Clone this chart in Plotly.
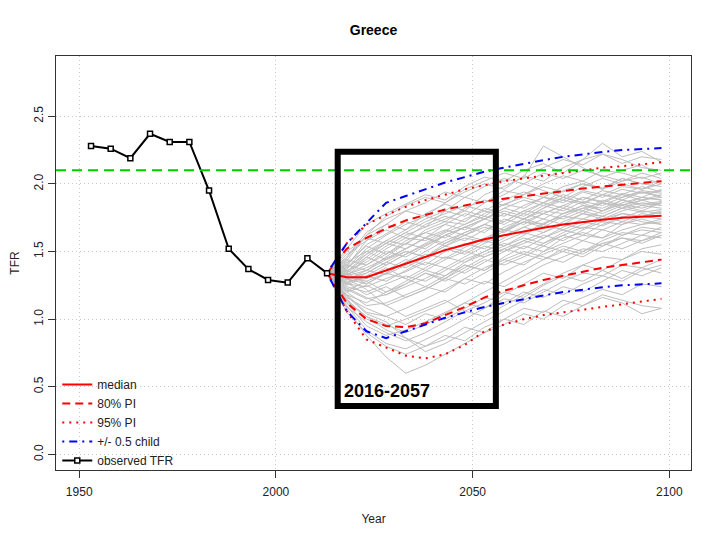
import plotly.graph_objects as go

# ---------------- data ----------------
obs_years = [1953, 1958, 1963, 1968, 1973, 1978, 1983, 1988, 1993, 1998, 2003, 2008, 2013]
obs_tfr = [2.28, 2.26, 2.19, 2.37, 2.31, 2.31, 1.95, 1.52, 1.37, 1.29, 1.27, 1.45, 1.34]

proj_years = [2013, 2018, 2023, 2028, 2033, 2038, 2043, 2048, 2053, 2058,
              2063, 2068, 2073, 2078, 2083, 2088, 2093, 2098]

median = [1.34, 1.31, 1.31, 1.36, 1.41, 1.46, 1.51, 1.55, 1.59, 1.62,
          1.65, 1.675, 1.70, 1.72, 1.735, 1.75, 1.76, 1.765]
pi80_upper = [1.34, 1.52, 1.60, 1.67, 1.73, 1.77, 1.81, 1.84, 1.87, 1.89,
              1.91, 1.93, 1.95, 1.965, 1.98, 1.995, 2.01, 2.02]
pi80_lower = [1.34, 1.12, 1.00, 0.95, 0.94, 0.97, 1.03, 1.09, 1.16, 1.21,
              1.25, 1.29, 1.32, 1.35, 1.38, 1.40, 1.42, 1.44]
pi95_upper = [1.34, 1.56, 1.70, 1.77, 1.83, 1.88, 1.92, 1.96, 1.99, 2.02,
              2.04, 2.06, 2.08, 2.10, 2.12, 2.13, 2.145, 2.16]
pi95_lower = [1.34, 1.06, 0.85, 0.79, 0.73, 0.71, 0.74, 0.81, 0.91, 0.96,
              1.00, 1.03, 1.05, 1.07, 1.09, 1.11, 1.13, 1.15]
half_child_upper = [1.34, 1.56, 1.71, 1.86, 1.91, 1.96, 2.01, 2.05, 2.09, 2.12,
                    2.15, 2.175, 2.20, 2.22, 2.235, 2.25, 2.26, 2.265]
half_child_lower = [1.34, 1.06, 0.91, 0.86, 0.91, 0.96, 1.01, 1.05, 1.09, 1.12,
                    1.15, 1.175, 1.20, 1.22, 1.235, 1.25, 1.26, 1.265]

replacement_tfr = 2.1

# simulated trajectories (values 2018..2098; all start at the 2013 observed value)
traj_start = 1.34
trajectories = [
    [1.52, 1.70, 1.78, 1.85, 1.92, 1.88, 1.98, 2.05, 2.02, 2.10, 2.15, 2.08, 2.18, 2.22, 2.15, 2.20, 2.18],
    [1.45, 1.62, 1.70, 1.66, 1.78, 1.85, 1.80, 1.92, 1.98, 2.05, 2.28, 2.20, 2.12, 2.05, 2.10, 2.14, 2.06],
    [1.40, 1.55, 1.63, 1.72, 1.68, 1.80, 1.90, 1.86, 1.95, 1.92, 2.00, 2.06, 2.02, 2.10, 2.08, 2.04, 2.08],
    [1.38, 1.48, 1.58, 1.55, 1.66, 1.72, 1.70, 1.78, 1.85, 1.90, 1.86, 1.95, 2.00, 1.96, 2.02, 2.05, 2.00],
    [1.36, 1.42, 1.52, 1.60, 1.58, 1.65, 1.74, 1.80, 1.76, 1.84, 1.90, 1.88, 1.95, 1.92, 1.98, 1.96, 2.00],
    [1.33, 1.38, 1.45, 1.52, 1.60, 1.56, 1.64, 1.70, 1.78, 1.74, 1.82, 1.88, 1.85, 1.92, 1.90, 1.95, 1.93],
    [1.35, 1.46, 1.40, 1.48, 1.55, 1.62, 1.58, 1.66, 1.72, 1.80, 1.78, 1.84, 1.90, 1.87, 1.93, 1.90, 1.96],
    [1.30, 1.34, 1.42, 1.38, 1.46, 1.54, 1.60, 1.57, 1.65, 1.72, 1.70, 1.78, 1.82, 1.86, 1.84, 1.90, 1.88],
    [1.32, 1.36, 1.33, 1.40, 1.48, 1.45, 1.53, 1.60, 1.66, 1.63, 1.71, 1.76, 1.74, 1.80, 1.85, 1.82, 1.86],
    [1.28, 1.30, 1.36, 1.44, 1.40, 1.50, 1.56, 1.52, 1.60, 1.68, 1.74, 1.70, 1.78, 1.76, 1.82, 1.86, 1.84],
    [1.26, 1.24, 1.30, 1.35, 1.42, 1.38, 1.46, 1.54, 1.50, 1.58, 1.64, 1.70, 1.67, 1.74, 1.78, 1.76, 1.80],
    [1.24, 1.20, 1.26, 1.32, 1.28, 1.36, 1.44, 1.50, 1.56, 1.52, 1.60, 1.66, 1.72, 1.69, 1.75, 1.80, 1.78],
    [1.22, 1.15, 1.18, 1.24, 1.30, 1.38, 1.34, 1.42, 1.50, 1.56, 1.62, 1.58, 1.66, 1.72, 1.70, 1.76, 1.74],
    [1.20, 1.10, 1.12, 1.18, 1.24, 1.20, 1.30, 1.38, 1.44, 1.40, 1.50, 1.56, 1.62, 1.60, 1.66, 1.70, 1.72],
    [1.18, 1.05, 1.02, 1.08, 1.15, 1.22, 1.30, 1.26, 1.35, 1.42, 1.48, 1.54, 1.50, 1.58, 1.64, 1.62, 1.68],
    [1.15, 1.00, 0.95, 1.00, 1.06, 1.12, 1.20, 1.28, 1.24, 1.32, 1.40, 1.46, 1.52, 1.50, 1.56, 1.62, 1.60],
    [1.12, 0.95, 0.88, 0.92, 0.98, 1.05, 1.12, 1.08, 1.18, 1.26, 1.34, 1.30, 1.40, 1.46, 1.44, 1.52, 1.55],
    [1.10, 0.92, 0.82, 0.78, 0.85, 0.92, 1.00, 1.08, 1.15, 1.12, 1.20, 1.28, 1.34, 1.32, 1.40, 1.38, 1.44],
    [1.08, 0.88, 0.72, 0.60, 0.66, 0.74, 0.82, 0.90, 0.96, 1.04, 1.00, 1.10, 1.16, 1.22, 1.18, 1.26, 1.24],
    [1.14, 1.02, 0.92, 0.86, 0.80, 0.85, 0.94, 0.90, 1.00, 1.08, 1.05, 1.14, 1.10, 1.18, 1.14, 1.10, 1.08],
    [1.30, 1.22, 1.10, 1.02, 1.08, 1.14, 1.06, 1.12, 1.20, 1.16, 1.25, 1.32, 1.28, 1.36, 1.30, 1.38, 1.34],
    [1.36, 1.30, 1.38, 1.30, 1.24, 1.32, 1.40, 1.36, 1.44, 1.50, 1.46, 1.42, 1.50, 1.56, 1.52, 1.58, 1.62],
    [1.42, 1.50, 1.44, 1.52, 1.60, 1.54, 1.50, 1.58, 1.54, 1.62, 1.70, 1.66, 1.62, 1.70, 1.76, 1.72, 1.70],
    [1.48, 1.58, 1.66, 1.60, 1.70, 1.76, 1.72, 1.82, 1.78, 1.74, 1.82, 1.90, 1.86, 1.80, 1.88, 1.94, 1.90],
    [1.34, 1.26, 1.34, 1.42, 1.36, 1.44, 1.50, 1.46, 1.52, 1.48, 1.56, 1.62, 1.58, 1.66, 1.62, 1.68, 1.66],
    [1.27, 1.18, 1.24, 1.16, 1.22, 1.30, 1.26, 1.34, 1.42, 1.48, 1.44, 1.52, 1.48, 1.56, 1.60, 1.56, 1.62],
    [1.40, 1.36, 1.44, 1.50, 1.46, 1.54, 1.62, 1.68, 1.64, 1.72, 1.68, 1.76, 1.82, 1.78, 1.84, 1.80, 1.86],
    [1.50, 1.60, 1.56, 1.64, 1.72, 1.78, 1.84, 1.80, 1.88, 1.94, 1.90, 1.98, 2.02, 1.96, 2.04, 2.00, 2.02],
    [1.16, 1.08, 1.02, 0.96, 1.04, 1.00, 1.08, 1.16, 1.12, 1.20, 1.16, 1.24, 1.20, 1.28, 1.36, 1.32, 1.38],
    [1.31, 1.28, 1.20, 1.26, 1.34, 1.28, 1.36, 1.44, 1.40, 1.46, 1.54, 1.50, 1.58, 1.54, 1.62, 1.66, 1.64],
    [1.44, 1.40, 1.48, 1.56, 1.52, 1.62, 1.68, 1.64, 1.74, 1.70, 1.78, 1.84, 1.80, 1.88, 1.84, 1.88, 1.92],
    [1.20, 1.25, 1.18, 1.26, 1.34, 1.30, 1.40, 1.36, 1.46, 1.54, 1.50, 1.60, 1.64, 1.60, 1.70, 1.74, 1.70],
    [1.05, 0.90, 0.80, 0.74, 0.80, 0.88, 0.84, 0.94, 1.00, 0.96, 1.06, 1.02, 1.10, 1.16, 1.12, 1.04, 1.08],
    [1.46, 1.64, 1.74, 1.80, 1.76, 1.86, 1.94, 2.00, 1.96, 2.06, 2.02, 2.12, 2.18, 2.30, 2.20, 2.24, 2.16],
    [1.38, 1.52, 1.62, 1.70, 1.76, 1.72, 1.82, 1.88, 1.84, 1.92, 1.98, 1.94, 2.00, 1.97, 2.04, 2.00, 1.98],
    [1.34, 1.44, 1.54, 1.62, 1.68, 1.74, 1.80, 1.76, 1.85, 1.82, 1.90, 1.86, 1.94, 1.90, 1.96, 1.93, 1.95],
    [1.29, 1.36, 1.46, 1.56, 1.64, 1.70, 1.66, 1.74, 1.82, 1.78, 1.86, 1.92, 1.88, 1.95, 1.92, 1.98, 1.94],
    [1.37, 1.50, 1.58, 1.66, 1.74, 1.80, 1.76, 1.86, 1.92, 2.00, 1.95, 1.90, 1.98, 2.04, 2.00, 1.96, 2.02],
    [1.25, 1.32, 1.40, 1.48, 1.56, 1.64, 1.70, 1.76, 1.72, 1.80, 1.86, 1.82, 1.90, 1.86, 1.92, 1.88, 1.90],
    [1.33, 1.40, 1.50, 1.46, 1.54, 1.62, 1.68, 1.74, 1.80, 1.76, 1.84, 1.80, 1.87, 1.84, 1.90, 1.94, 1.91],
    [1.21, 1.28, 1.34, 1.42, 1.50, 1.58, 1.64, 1.70, 1.66, 1.74, 1.80, 1.78, 1.84, 1.82, 1.88, 1.85, 1.87],
    [1.39, 1.58, 1.70, 1.80, 1.86, 1.94, 1.90, 1.98, 2.04, 2.00, 2.08, 2.04, 2.10, 2.06, 2.02, 2.08, 2.04],
    [1.31, 1.46, 1.56, 1.64, 1.60, 1.70, 1.78, 1.74, 1.82, 1.88, 1.84, 1.90, 1.86, 1.92, 1.88, 1.84, 1.86],
    [1.27, 1.32, 1.28, 1.36, 1.44, 1.52, 1.48, 1.56, 1.62, 1.68, 1.64, 1.72, 1.78, 1.74, 1.80, 1.84, 1.82],
    [1.18, 1.12, 1.20, 1.28, 1.36, 1.32, 1.42, 1.48, 1.54, 1.60, 1.56, 1.64, 1.70, 1.76, 1.72, 1.78, 1.76],
    [1.23, 1.16, 1.10, 1.16, 1.22, 1.30, 1.38, 1.46, 1.52, 1.58, 1.54, 1.62, 1.68, 1.66, 1.72, 1.70, 1.74],
    [1.13, 1.02, 0.96, 0.90, 0.96, 1.04, 1.12, 1.20, 1.28, 1.36, 1.44, 1.50, 1.46, 1.54, 1.60, 1.58, 1.64],
    [1.09, 0.98, 0.90, 0.84, 0.90, 0.98, 1.06, 1.02, 1.10, 1.18, 1.26, 1.34, 1.40, 1.36, 1.44, 1.50, 1.48],
    [1.17, 1.04, 0.98, 0.86, 0.76, 0.82, 0.90, 0.98, 1.06, 1.14, 1.22, 1.18, 1.26, 1.32, 1.28, 1.36, 1.40],
    [1.35, 1.48, 1.56, 1.52, 1.60, 1.66, 1.62, 1.70, 1.66, 1.72, 1.78, 1.74, 1.80, 1.76, 1.82, 1.79, 1.81],
    [1.41, 1.54, 1.48, 1.58, 1.64, 1.60, 1.68, 1.74, 1.70, 1.78, 1.74, 1.82, 1.78, 1.86, 1.82, 1.88, 1.84],
    [1.30, 1.26, 1.34, 1.30, 1.38, 1.46, 1.42, 1.50, 1.58, 1.64, 1.60, 1.68, 1.74, 1.72, 1.78, 1.76, 1.79],
    [1.26, 1.34, 1.42, 1.50, 1.46, 1.56, 1.62, 1.58, 1.68, 1.74, 1.70, 1.78, 1.84, 1.80, 1.86, 1.90, 1.88],
    [1.43, 1.62, 1.76, 1.84, 1.90, 1.86, 1.96, 2.02, 2.08, 2.04, 2.12, 2.18, 2.14, 2.22, 2.18, 2.12, 2.10],
]

x_ticks = [1950, 2000, 2050, 2100]
y_ticks = [0.0, 0.5, 1.0, 1.5, 2.0, 2.5]
box_label = "2016-2057"
box_x = (2015.7, 2055.9)
box_y = (0.358, 2.238)

FONT = "Liberation Sans, Arial, sans-serif"

fig = go.Figure()

# gray trajectories
for tr in trajectories:
    fig.add_trace(go.Scatter(
        x=proj_years, y=[traj_start] + tr, mode="lines",
        line=dict(color="#BEBEBE", width=1), showlegend=False, hoverinfo="skip"))


def band(upper, lower):
    return proj_years + [None] + proj_years, upper + [None] + lower


x95, y95 = band(pi95_upper, pi95_lower)
fig.add_trace(go.Scatter(x=x95, y=y95, mode="lines", name="95% PI", legendrank=3,
                         line=dict(color="#FF0000", width=2, dash="2px,5px")))
x80, y80 = band(pi80_upper, pi80_lower)
fig.add_trace(go.Scatter(x=x80, y=y80, mode="lines", name="80% PI", legendrank=2,
                         line=dict(color="#FF0000", width=2, dash="8px,5px")))
xh, yh = band(half_child_upper, half_child_lower)
fig.add_trace(go.Scatter(x=xh, y=yh, mode="lines", name="+/- 0.5 child", legendrank=4,
                         line=dict(color="#0000FF", width=2, dash="2px,5px,8px,5px")))
fig.add_trace(go.Scatter(x=proj_years, y=median, mode="lines", name="median", legendrank=1,
                         line=dict(color="#FF0000", width=2)))
fig.add_trace(go.Scatter(x=obs_years, y=obs_tfr, mode="lines+markers", name="observed TFR",
                         legendrank=5,
                         line=dict(color="black", width=2),
                         marker=dict(symbol="square", size=5, color="white",
                                     line=dict(color="black", width=1.5))))

# replacement level line
fig.add_hline(y=replacement_tfr, line=dict(color="#00CC00", width=2, dash="10px,6px"))

# highlight box
fig.add_shape(type="rect", xref="x", yref="y", x0=box_x[0], x1=box_x[1],
              y0=box_y[0], y1=box_y[1], line=dict(color="black", width=6),
              fillcolor="rgba(0,0,0,0)", layer="above")
fig.add_annotation(x=box_x[0], y=box_y[0], xref="x", yref="y", text="<b>" + box_label + "</b>",
                   showarrow=False, xanchor="left", yanchor="bottom", xshift=4, yshift=3,
                   font=dict(family=FONT, size=18, color="black"))

axis_common = dict(showgrid=True, gridcolor="#C8C8C8", griddash="1px,3px", gridwidth=1,
                   showline=True, mirror=True, linecolor="#333333", linewidth=1,
                   ticks="outside", ticklen=7, tickcolor="#333333", zeroline=False,
                   automargin=False,
                   tickfont=dict(family=FONT, size=12, color="#222222"))

W, H = 720, 540
fig.update_layout(
    width=W, height=H,
    margin=dict(l=56, r=29, t=56, b=70),
    plot_bgcolor="white", paper_bgcolor="white",
    title=dict(text="<b>Greece</b>", x=0.5, xref="paper", y=1 - 30 / H, yanchor="middle",
               font=dict(family=FONT, size=14, color="black")),
    xaxis=dict(range=[1944.1, 2105.5], tickvals=x_ticks, ticklabelstandoff=4, **axis_common,
               title=dict(text="Year", standoff=16, font=dict(family=FONT, size=12, color="#222222"))),
    yaxis=dict(range=[-0.115, 2.945], tickvals=y_ticks, tickformat=".1f", tickangle=-90,
               **axis_common,
               title=dict(text="TFR", standoff=10, font=dict(family=FONT, size=12, color="#222222"))),
    legend=dict(x=0.002, y=-0.012, xanchor="left", yanchor="bottom", bgcolor="rgba(0,0,0,0)",
                font=dict(family=FONT, size=12, color="#222222"), tracegroupgap=0,
                itemwidth=30),
    showlegend=True,
)

fig.write_html("out.html", config={"displayModeBar": False},
               post_script="document.body.style.margin='0px';")
